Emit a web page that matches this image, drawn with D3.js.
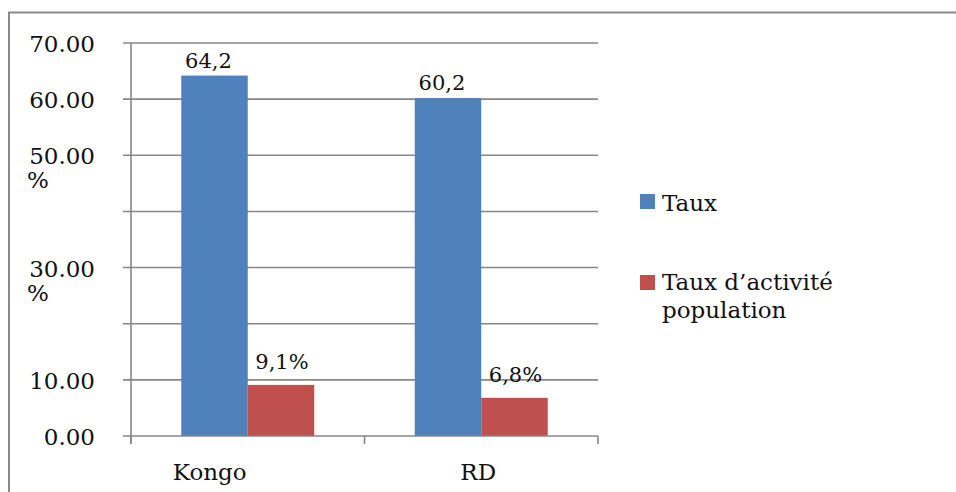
<!DOCTYPE html>
<html>
<head>
<meta charset="utf-8">
<script src="https://cdn.jsdelivr.net/npm/d3@7"></script>
<style>
  html, body { margin: 0; padding: 0; background: #fff; }
  svg { display: block; font-family: "DejaVu Serif", serif; }
</style>
</head>
<body>
<svg id="chart" width="956" height="492"></svg>
<script>
const categories = ["Kongo", "RD"];
const seriesNames = ["Taux", "Taux d\u2019activité population"];
const tauxValues = [64.2, 60.2];
const activiteValues = [9.1, 6.8];
const valueLabels = [["64,2", "60,2"], ["9,1%", "6,8%"]];
const yTicks = [0, 10, 20, 30, 40, 50, 60, 70];
const yTickLabels = { 0: ["0.00"], 10: ["10.00"], 20: [], 30: ["30.00", "%"], 40: [], 50: ["50.00", "%"], 60: ["60.00"], 70: ["70.00"] };
const colors = ["#4f81bd", "#c0504d"];

(function () {
const svg = d3.select("#chart");
const gridColor = "#878787";

// outer frame
svg.append("rect").attr("x", 9).attr("y", 12.5).attr("width", 1000).attr("height", 1000)
  .attr("fill", "#fff").attr("stroke", "#8a8a8a").attr("stroke-width", 2);

const pLeft = 131, pRight = 598, pTop = 43, pBottom = 436;
const y = d3.scaleLinear().domain([0, 70]).range([pBottom, pTop]);
const x0 = d3.scaleBand().domain(categories).range([pLeft, pRight]).paddingInner(0).paddingOuter(0);
const x1 = d3.scaleBand().domain([0, 1]).range([0, x0.bandwidth()]).paddingInner(0).paddingOuter(0.756);

// gridlines
svg.append("g").selectAll("line").data(yTicks.filter(t => t > 0)).join("line")
  .attr("x1", pLeft - 8).attr("x2", pRight)
  .attr("y1", d => y(d)).attr("y2", d => y(d))
  .attr("stroke", gridColor).attr("stroke-width", 1.6);

// y axis line
svg.append("line").attr("x1", pLeft).attr("x2", pLeft).attr("y1", pTop).attr("y2", pBottom + 8)
  .attr("stroke", gridColor).attr("stroke-width", 1.6);

// y tick labels
const yl = svg.append("g").attr("font-size", 23).attr("fill", "#111");
yTicks.forEach(t => {
  const lines = yTickLabels[t];
  if (!lines.length) return;
  yl.append("text").attr("x", 95).attr("y", y(t) + 9).attr("text-anchor", "end").text(lines[0]);
  if (lines[1]) {
    yl.append("text").attr("x", 27).attr("y", y(t) + 33).text(lines[1]);
  }
});

// bars
const data = [tauxValues, activiteValues];
const groups = svg.append("g").selectAll("g").data(categories).join("g")
  .attr("transform", d => `translate(${x0(d)},0)`);
groups.each(function(cat, ci) {
  const g = d3.select(this);
  data.forEach((vals, si) => {
    g.append("rect")
      .attr("x", x1(si)).attr("width", x1.bandwidth())
      .attr("y", y(vals[ci])).attr("height", pBottom - y(vals[ci]))
      .attr("fill", colors[si]);
    g.append("text")
      .attr("x", x1(si) + x1.bandwidth() / 2 + (si === 0 ? -6 : 1))
      .attr("y", y(vals[ci]) - (si === 0 ? 8 : 16))
      .attr("text-anchor", "middle").attr("font-size", 21).attr("fill", "#111")
      .text(valueLabels[si][ci]);
  });
});

// x axis line + ticks
svg.append("line").attr("x1", pLeft - 8).attr("x2", pRight).attr("y1", pBottom).attr("y2", pBottom)
  .attr("stroke", gridColor).attr("stroke-width", 1.6);
const xTickPos = [pLeft, ...categories.map(c => x0(c) + x0.bandwidth())];
svg.append("g").selectAll("line").data(xTickPos).join("line")
  .attr("x1", d => d).attr("x2", d => d).attr("y1", pBottom).attr("y2", pBottom + 8)
  .attr("stroke", gridColor).attr("stroke-width", 1.6);

// category labels
svg.append("g").selectAll("text").data(categories).join("text")
  .attr("x", d => x0(d) + x0.bandwidth() / 2)
  .attr("dx", (d, i) => i === 0 ? -38 : -3)
  .attr("y", 480).attr("text-anchor", "middle").attr("font-size", 23).attr("fill", "#111")
  .text(d => d);

// legend
const legend = svg.append("g").attr("font-size", 23).attr("fill", "#111");
const legendY = [201, 282];
seriesNames.forEach((name, i) => {
  legend.append("rect").attr("x", 640).attr("y", legendY[i] - 7).attr("width", 15).attr("height", 15)
    .attr("fill", colors[i]);
});
legend.append("text").attr("x", 662).attr("y", 211).text("Taux");
const t2 = legend.append("text").attr("y", 290);
t2.append("tspan").attr("x", 662).text("Taux d\u2019activité");
t2.append("tspan").attr("x", 662).attr("dy", 28).text("population");
})();
</script>
</body>
</html>
